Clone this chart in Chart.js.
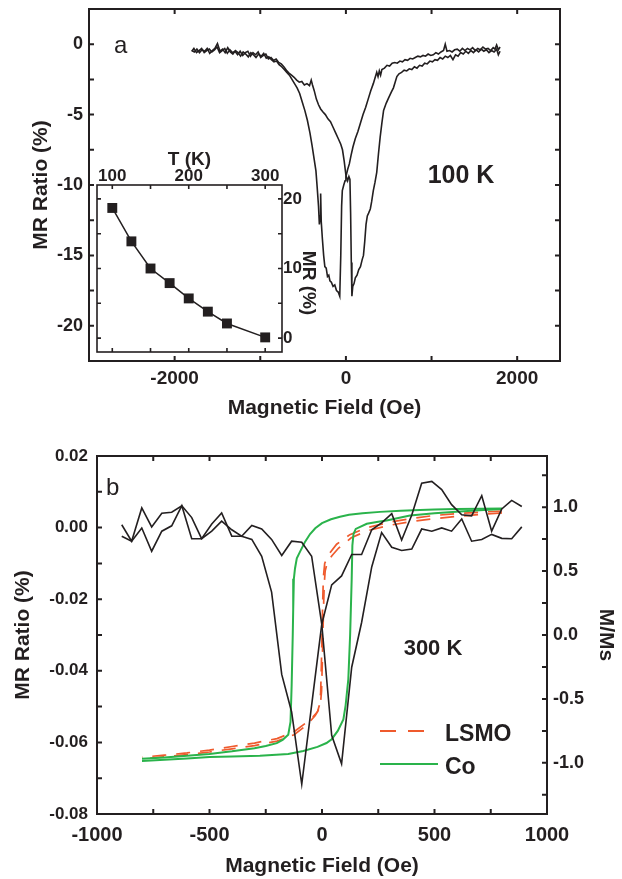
<!DOCTYPE html>
<html><head><meta charset="utf-8">
<script src="https://cdn.jsdelivr.net/npm/chart.js@4.4.1/dist/chart.umd.min.js"></script>
<style>
html,body{margin:0;padding:0;background:#fff;}
#wrap{position:relative;width:622px;height:879px;overflow:hidden;background:#fff;}
canvas{position:absolute;}
</style></head><body>
<div id="wrap">
<canvas id="ca" style="left:0;top:0;width:622px;height:430px" width="622" height="430"></canvas>
<canvas id="ci" style="left:80px;top:145px;width:250px;height:215px" width="250" height="215"></canvas>
<canvas id="cb" style="left:0;top:430px;width:622px;height:449px" width="622" height="449"></canvas>
</div>
<script>
// ---------------- DATA ----------------
// Panel a (100 K): MR ratio (%) vs magnetic field (Oe), two sweep branches
const aSweepL = [[-1800,-0.45],[-1770,-0.55],[-1740,-0.35],[-1710,-0.6],[-1680,-0.4],[-1650,-0.5],[-1620,-0.3],[-1590,-0.65],[-1560,-0.45],[-1530,-0.3],[-1500,0.05],[-1470,-0.5],[-1440,-0.35],[-1410,-0.6],[-1380,-0.25],[-1350,-0.55],[-1320,-0.7],[-1290,-0.45],[-1260,-0.6],[-1230,-0.85],[-1200,-0.55],[-1170,-0.7],[-1140,-0.9],[-1110,-0.6],[-1080,-0.75],[-1050,-0.95],[-1020,-0.7],[-990,-0.85],[-960,-0.65],[-930,-1.0],[-900,-0.9],[-870,-1.1],[-840,-1.25],[-810,-1.2],[-780,-1.45],[-750,-1.6],[-720,-1.8],[-690,-2.0],[-660,-2.2],[-630,-2.5],[-600,-2.8],[-570,-3.1],[-540,-3.5],[-510,-4.1],[-480,-4.7],[-450,-5.4],[-420,-6.3],[-395,-7.2],[-370,-8.2],[-350,-9.0],[-335,-10.2],[-320,-11.5],[-310,-12.8],[-300,-12.2],[-295,-10.6],[-288,-12.6],[-275,-13.8],[-260,-15.0],[-246,-15.8],[-230,-15.9],[-215,-16.5],[-200,-16.4],[-187,-16.8],[-170,-16.9],[-150,-17.2],[-130,-17.1],[-110,-17.5],[-90,-17.6],[-72,-17.9],[-60,-15.0],[-50,-11.5],[-42,-10.4],[-25,-10.0],[-10,-9.7],[0,-9.4],[20,-8.9],[40,-8.5],[60,-7.9],[82,-7.3],[110,-6.7],[140,-6.2],[170,-5.6],[200,-5.0],[230,-4.5],[260,-3.9],[290,-3.3],[320,-2.8],[345,-2.3],[360,-2.0],[375,-2.3],[390,-1.9],[405,-2.2],[420,-1.8],[450,-1.7],[480,-1.5],[510,-1.55],[540,-1.35],[570,-1.3],[600,-1.35],[630,-1.2],[660,-1.25],[690,-1.1],[720,-1.15],[750,-1.0],[780,-1.05],[810,-0.95],[840,-0.85],[870,-0.9],[900,-0.8],[930,-0.85],[960,-0.7],[990,-0.8],[1020,-0.75],[1050,-0.6],[1080,-0.7],[1110,-0.55],[1140,-0.45],[1160,0.0],[1180,-0.5],[1210,-0.45],[1240,-0.55],[1270,-0.4],[1300,-0.35],[1330,-0.5],[1360,-0.3],[1390,-0.45],[1420,-0.3],[1450,-0.4],[1480,-0.25],[1510,-0.45],[1540,-0.3],[1570,-0.4],[1600,-0.2],[1630,-0.35],[1660,-0.3],[1690,-0.45],[1720,-0.25],[1740,-0.35],[1760,-0.05],[1780,-0.4],[1800,-0.2]];
const aSweepR = [[-1800,-0.5],[-1775,-0.3],[-1745,-0.6],[-1715,-0.45],[-1685,-0.3],[-1655,-0.6],[-1625,-0.45],[-1595,-0.35],[-1565,-0.55],[-1535,-0.4],[-1505,-0.2],[-1475,-0.6],[-1445,-0.45],[-1415,-0.3],[-1385,-0.65],[-1355,-0.4],[-1325,-0.6],[-1295,-0.5],[-1265,-0.75],[-1235,-0.5],[-1205,-0.8],[-1175,-0.6],[-1145,-0.5],[-1115,-0.85],[-1085,-0.6],[-1055,-0.75],[-1025,-0.55],[-995,-0.95],[-965,-0.8],[-935,-0.7],[-905,-1.05],[-875,-0.95],[-845,-1.15],[-815,-1.05],[-785,-1.3],[-755,-1.4],[-725,-1.6],[-695,-1.85],[-665,-2.05],[-635,-2.2],[-605,-2.35],[-575,-2.55],[-545,-2.7],[-515,-2.65],[-485,-2.9],[-455,-2.8],[-425,-2.95],[-405,-2.55],[-390,-2.9],[-370,-3.3],[-345,-3.9],[-320,-4.3],[-295,-4.6],[-270,-4.8],[-240,-5.0],[-210,-5.3],[-180,-5.5],[-150,-5.9],[-120,-6.3],[-90,-6.7],[-60,-7.1],[-40,-7.5],[-20,-8.3],[0,-9.3],[20,-9.7],[35,-9.4],[47,-9.6],[55,-12.0],[63,-15.5],[70,-17.9],[80,-17.2],[95,-17.0],[110,-16.6],[130,-16.4],[150,-16.0],[170,-15.8],[190,-15.3],[205,-15.0],[220,-14.0],[235,-12.8],[250,-12.2],[265,-12.0],[285,-11.7],[300,-11.2],[320,-10.4],[340,-9.8],[360,-9.1],[380,-7.8],[400,-6.6],[420,-5.6],[440,-4.7],[470,-4.2],[500,-3.8],[530,-3.4],[555,-3.1],[575,-2.7],[595,-2.3],[620,-2.1],[650,-2.0],[680,-1.85],[710,-1.9],[740,-1.75],[770,-1.8],[800,-1.6],[830,-1.7],[860,-1.5],[890,-1.55],[920,-1.35],[950,-1.4],[980,-1.2],[1010,-1.25],[1040,-1.1],[1070,-1.15],[1100,-0.95],[1130,-1.05],[1160,-0.85],[1190,-0.95],[1220,-0.8],[1250,-1.1],[1280,-0.75],[1310,-0.85],[1340,-0.6],[1370,-0.7],[1400,-0.5],[1430,-0.65],[1460,-0.45],[1490,-0.6],[1520,-0.4],[1550,-0.55],[1580,-0.35],[1610,-0.5],[1640,-0.4],[1670,-0.6],[1700,-0.45],[1730,-0.55],[1760,-0.35],[1780,-0.75],[1800,-0.5]];
const aXTicks = [-3000,-2000,-1000,0,1000,2000];
const aXLabels = [-2000,0,2000];
const aYTicks = [-20,-17.5,-15,-12.5,-10,-7.5,-5,-2.5,0];
const aYLabels = [-20,-15,-10,-5,0];

// Inset: MR (%) vs temperature (K)
const insetTemp = [100,125,150,175,200,225,250,300];
const insetMr = [18.7,13.9,10.0,7.9,5.7,3.8,2.1,0.1];
const insetTTicks = [100,150,200,250,300];
const insetTLabels = [100,200,300];
const insetMrTicks = [0,5,10,15,20];
const insetMrLabels = [0,10,20];

// Panel b (300 K): MR ratio (%) branches on a common field grid
const bField = [-890,-846,-801,-757,-712,-668,-623,-579,-535,-490,-446,-401,-357,-312,-268,-224,-179,-135,-90,-46,-1,43,87,132,176,221,265,310,354,399,443,488,532,576,621,665,710,754,799,843,888];
const bMrUp = [-0.0024,-0.0038,-0.0001,-0.0066,-0.001,0.0005,0.0061,-0.0031,-0.0031,0.001,0.0041,-0.0024,-0.0024,-0.0033,-0.008,-0.018,-0.041,-0.0515,-0.0717,-0.0496,-0.027,-0.016,-0.0135,-0.0075,-0.0075,-0.0006,0.0013,0.0039,-0.0035,0.0035,0.0124,0.0129,0.0106,0.0064,0.0036,0.0033,0.0089,-0.001,0.0052,0.0076,0.0059];
const bMrDown = [0.0008,-0.0038,0.0055,0.0002,0.004,0.0043,0.0061,0.0028,-0.0031,-0.001,0.0018,-0.0006,-0.0024,0.0006,-0.0004,-0.0033,-0.0078,-0.0038,-0.0041,-0.008,-0.027,-0.058,-0.066,-0.039,-0.0265,-0.011,-0.0014,-0.0055,-0.0064,-0.006,-0.0004,-0.001,-0.0001,-0.001,0.0024,-0.0038,-0.0033,-0.0019,-0.003,-0.0031,0.0002];
// Magnetization loops (M/Ms); both LSMO branches listed from +800 Oe to -800 Oe
const lsmoDescH = [800,700,600,500,400,300,200,124,65,30,12,6,3,0,-3,-6,-10,-20,-40,-70,-127,-200,-300,-400,-500,-600,-700,-800];
const lsmoDescM = [0.97,0.96,0.95,0.935,0.912,0.882,0.84,0.785,0.71,0.63,0.56,0.45,0.25,0.0,-0.25,-0.45,-0.54,-0.6,-0.64,-0.685,-0.76,-0.81,-0.845,-0.872,-0.9,-0.922,-0.94,-0.955];
const lsmoAscH = [800,700,600,500,400,300,200,130,74,44,24,14,10,7,4,1,-2,-8,-30,-65,-124,-200,-300,-400,-500,-600,-700,-800];
const lsmoAscM = [0.955,0.942,0.928,0.91,0.888,0.858,0.815,0.76,0.68,0.62,0.57,0.5,0.4,0.22,0.0,-0.24,-0.44,-0.56,-0.63,-0.7,-0.78,-0.83,-0.865,-0.89,-0.915,-0.935,-0.952,-0.97];
const coDescH = [800,700,600,500,436,350,258,180,120,80,40,0,-30,-53,-75,-98,-112,-120,-125,-128,-130,-135,-140,-150,-175,-201,-250,-300,-400,-500,-600,-700,-800];
const coDescM = [0.99,0.988,0.985,0.982,0.978,0.972,0.963,0.952,0.94,0.925,0.905,0.875,0.835,0.79,0.73,0.65,0.6,0.52,0.44,0.2,0.0,-0.4,-0.68,-0.78,-0.82,-0.846,-0.868,-0.885,-0.91,-0.93,-0.945,-0.958,-0.968];
const coAscH = [-800,-700,-600,-500,-400,-276,-150,-83,-20,20,43,70,95,105,117,125,132,135,140,150,199,250,287,391,500,613,700,800];
const coAscM = [-0.985,-0.975,-0.965,-0.955,-0.95,-0.945,-0.93,-0.907,-0.875,-0.845,-0.815,-0.75,-0.66,-0.55,-0.345,0.0,0.44,0.7,0.79,0.83,0.87,0.885,0.896,0.935,0.952,0.966,0.975,0.985];
const bXTicks = [-1000,-750,-500,-250,0,250,500,750,1000];
const bXLabels = [-1000,-500,0,500,1000];
const bYTicks = [-0.08,-0.07,-0.06,-0.05,-0.04,-0.03,-0.02,-0.01,0,0.01,0.02];
const bYLabels = [-0.08,-0.06,-0.04,-0.02,0,0.02];
const bY2Ticks = [-1.25,-1,-0.75,-0.5,-0.25,0,0.25,0.5,0.75,1,1.25];
const bY2Labels = [-1,-0.5,0,0.5,1];

// ---------------- STYLE / HELPERS ----------------
const FONT = "'Liberation Sans', Arial, Helvetica, sans-serif";
const INK = '#231f20';
const GREEN = '#2ab34b';
const RED = '#ef5a2d';

const pairs = arr => arr.map(p => ({x: p[0], y: p[1]}));
const zip = (xs, ys) => xs.map((x, i) => ({x, y: ys[i]}));
const setTicks = vals => (scale) => { scale.ticks = vals.map(v => ({value: v})); };
const labelIf = (labels, fmt) => (v) => labels.includes(v) ? fmt(v) : '';
const fixSize = (prop, size) => (s) => {
  s[prop] = size;
  s.paddingTop = 0; s.paddingBottom = 0; s.paddingLeft = 0; s.paddingRight = 0;
};

const frameTicks = {
  id: 'frameTicks',
  afterDatasetsDraw(chart, args, opts) {
    const {ctx, chartArea: a} = chart;
    ctx.save();
    ctx.strokeStyle = INK;
    ctx.lineWidth = opts.width;
    const L = opts.len;
    ctx.beginPath();
    for (const id of Object.keys(opts.axes)) {
      const sides = opts.axes[id];
      const s = chart.scales[id];
      for (const t of s.ticks) {
        const p = s.getPixelForValue(t.value);
        if (s.isHorizontal()) {
          if (p < a.left + 2 || p > a.right - 2) continue;
          if (sides.includes('b')) { ctx.moveTo(p, a.bottom); ctx.lineTo(p, a.bottom - L); }
          if (sides.includes('t')) { ctx.moveTo(p, a.top); ctx.lineTo(p, a.top + L); }
        } else {
          if (p < a.top + 2 || p > a.bottom - 2) continue;
          if (sides.includes('l')) { ctx.moveTo(a.left, p); ctx.lineTo(a.left + L, p); }
          if (sides.includes('r')) { ctx.moveTo(a.right, p); ctx.lineTo(a.right - L, p); }
        }
      }
    }
    ctx.stroke();
    ctx.strokeRect(a.left, a.top, a.right - a.left, a.bottom - a.top);
    ctx.restore();
  }
};

const notes = {
  id: 'notes',
  afterDraw(chart, args, opts) {
    const ctx = chart.ctx;
    ctx.save();
    for (const it of (opts.lines || [])) {
      ctx.strokeStyle = it.color; ctx.lineWidth = it.width;
      ctx.setLineDash(it.dash || []);
      ctx.beginPath(); ctx.moveTo(it.x1, it.y); ctx.lineTo(it.x2, it.y); ctx.stroke();
    }
    ctx.setLineDash([]);
    for (const it of (opts.texts || [])) {
      ctx.save();
      ctx.font = it.font; ctx.fillStyle = INK;
      ctx.textAlign = it.align || 'left';
      ctx.textBaseline = it.baseline || 'alphabetic';
      ctx.translate(it.x, it.y);
      if (it.rot) ctx.rotate(it.rot);
      ctx.fillText(it.text, 0, 0);
      ctx.restore();
    }
    ctx.restore();
  }
};

Chart.defaults.font.family = FONT;
Chart.defaults.color = INK;

const lineDs = (data, color, width, extra) => Object.assign({
  data, showLine: true, borderColor: color, backgroundColor: color,
  borderWidth: width, pointRadius: 0, tension: 0, fill: false
}, extra || {});

const tickFont = (size) => ({family: FONT, size, weight: 'bold'});
const titleFont = (size) => ({family: FONT, size, weight: 'bold'});

// ---------------- PANEL A ----------------
new Chart(document.getElementById('ca'), {
  type: 'scatter',
  data: { datasets: [
    lineDs(pairs(aSweepL), INK, 1.6),
    lineDs(pairs(aSweepR), INK, 1.6)
  ]},
  options: {
    responsive: false, animation: false,
    layout: { padding: {left: 0, top: 9, right: 62, bottom: 0}, autoPadding: false },
    plugins: { legend: {display: false}, tooltip: {enabled: false},
      frameTicks: { width: 2, len: 5, axes: { x: 'bt', y: 'lr' } },
      notes: { texts: [
        {text: 'a', x: 114, y: 53, font: "24px " + FONT},
        {text: '100 K', x: 461, y: 183, font: "bold 25px " + FONT, align: 'center'}
      ]}
    },
    scales: {
      x: { type: 'linear', min: -3000, max: 2500, position: 'bottom',
        afterBuildTicks: setTicks(aXTicks),
        afterFit: fixSize('height', 69),
        grid: {display: false, drawTicks: false}, border: {display: false},
        ticks: { autoSkip: false, maxRotation: 0, padding: 6, font: tickFont(19), color: INK,
          callback: labelIf(aXLabels, v => String(v)) },
        title: { display: true, text: 'Magnetic Field (Oe)', font: titleFont(21), color: INK, padding: {top: 0, bottom: 9} }
      },
      y: { type: 'linear', min: -22.5, max: 2.5, position: 'left',
        afterBuildTicks: setTicks(aYTicks),
        afterFit: fixSize('width', 89),
        grid: {display: false, drawTicks: false}, border: {display: false},
        ticks: { autoSkip: false, padding: 6, font: tickFont(18), color: INK,
          callback: labelIf(aYLabels, v => String(v)) },
        title: { display: true, text: 'MR Ratio (%)', font: titleFont(21), color: INK, padding: {top: 29, bottom: 0} }
      }
    }
  },
  plugins: [frameTicks, notes]
});

// ---------------- INSET ----------------
new Chart(document.getElementById('ci'), {
  type: 'scatter',
  data: { datasets: [
    lineDs(zip(insetTemp, insetMr), INK, 1.5, {pointRadius: 7, pointStyle: 'rect', pointBorderWidth: 0, pointBackgroundColor: INK})
  ]},
  options: {
    responsive: false, animation: false,
    layout: { padding: {left: 17, top: 0, right: 0, bottom: 8}, autoPadding: false },
    plugins: { legend: {display: false}, tooltip: {enabled: false},
      frameTicks: { width: 1.6, len: 4, axes: { x: 'bt', y: 'lr' } },
      notes: { texts: [
        {text: 'MR (%)', x: 228, y: 138, font: "bold 19px " + FONT, align: 'center', baseline: 'middle', rot: Math.PI / 2}
      ]}
    },
    scales: {
      x: { type: 'linear', min: 80, max: 322, position: 'top',
        afterBuildTicks: setTicks(insetTTicks),
        afterFit: fixSize('height', 40),
        grid: {display: false, drawTicks: false}, border: {display: false},
        ticks: { autoSkip: false, maxRotation: 0, padding: -2, font: tickFont(17), color: INK,
          callback: labelIf(insetTLabels, v => String(v)) },
        title: { display: true, text: 'T (K)', font: titleFont(19), color: INK, padding: {top: 3, bottom: 0} }
      },
      y: { type: 'linear', min: -2, max: 22, position: 'right',
        afterBuildTicks: setTicks(insetMrTicks),
        afterFit: fixSize('width', 48),
        grid: {display: false, drawTicks: false}, border: {display: false},
        ticks: { autoSkip: false, padding: 1, font: tickFont(17), color: INK,
          callback: labelIf(insetMrLabels, v => String(v)) },
        title: { display: false, text: 'MR (%)' }
      }
    }
  },
  plugins: [frameTicks, notes]
});

// ---------------- PANEL B ----------------
const OFF = 430;
new Chart(document.getElementById('cb'), {
  type: 'scatter',
  data: { datasets: [
    lineDs(zip(bField, bMrUp), INK, 1.6, {yAxisID: 'y'}),
    lineDs(zip(bField, bMrDown), INK, 1.6, {yAxisID: 'y'}),
    lineDs(zip(coDescH, coDescM), GREEN, 2, {yAxisID: 'y2'}),
    lineDs(zip(coAscH, coAscM), GREEN, 2, {yAxisID: 'y2'}),
    lineDs(zip(lsmoDescH, lsmoDescM), RED, 1.7, {yAxisID: 'y2', borderDash: [14, 10]}),
    lineDs(zip(lsmoAscH, lsmoAscM), RED, 1.7, {yAxisID: 'y2', borderDash: [14, 10]})
  ]},
  options: {
    responsive: false, animation: false,
    layout: { padding: {left: 0, top: 26, right: 0, bottom: 0}, autoPadding: false },
    plugins: { legend: {display: false}, tooltip: {enabled: false},
      frameTicks: { width: 2, len: 5, axes: { x: 'bt', y: 'l', y2: 'r' } },
      notes: {
        lines: [
          {x1: 380, x2: 426, y: 731 - OFF, color: RED, width: 2, dash: [16, 12]},
          {x1: 380, x2: 438, y: 764 - OFF, color: GREEN, width: 2}
        ],
        texts: [
          {text: 'b', x: 106, y: 495 - OFF, font: "24px " + FONT},
          {text: '300 K', x: 433, y: 655 - OFF, font: "bold 22px " + FONT, align: 'center'},
          {text: 'LSMO', x: 445, y: 741 - OFF, font: "bold 23px " + FONT},
          {text: 'Co', x: 445, y: 774 - OFF, font: "bold 23px " + FONT}
        ]
      }
    },
    scales: {
      x: { type: 'linear', min: -1000, max: 1000, position: 'bottom',
        afterBuildTicks: setTicks(bXTicks),
        afterFit: fixSize('height', 65),
        grid: {display: false, drawTicks: false}, border: {display: false},
        ticks: { autoSkip: false, maxRotation: 0, padding: 9, font: tickFont(20), color: INK,
          callback: labelIf(bXLabels, v => String(v)) },
        title: { display: true, text: 'Magnetic Field (Oe)', font: titleFont(21), color: INK, padding: {top: 0, bottom: 0} }
      },
      y: { type: 'linear', min: -0.08, max: 0.02, position: 'left',
        afterBuildTicks: setTicks(bYTicks),
        afterFit: fixSize('width', 97),
        grid: {display: false, drawTicks: false}, border: {display: false},
        ticks: { autoSkip: false, padding: 9, font: tickFont(17), color: INK,
          callback: labelIf(bYLabels, v => v.toFixed(2)) },
        title: { display: true, text: 'MR Ratio (%)', font: titleFont(21), color: INK, padding: {top: 11, bottom: 0} }
      },
      y2: { type: 'linear', min: -1.4, max: 1.4, position: 'right',
        afterBuildTicks: setTicks(bY2Ticks),
        afterFit: fixSize('width', 75),
        grid: {display: false, drawTicks: false}, border: {display: false},
        ticks: { autoSkip: false, padding: 6, font: tickFont(18), color: INK,
          callback: labelIf(bY2Labels, v => v.toFixed(1)) },
        title: { display: true, text: 'M/Ms', font: titleFont(21), color: INK, padding: {top: 4, bottom: 0} }
      }
    }
  },
  plugins: [frameTicks, notes]
});
</script>
</body></html>
